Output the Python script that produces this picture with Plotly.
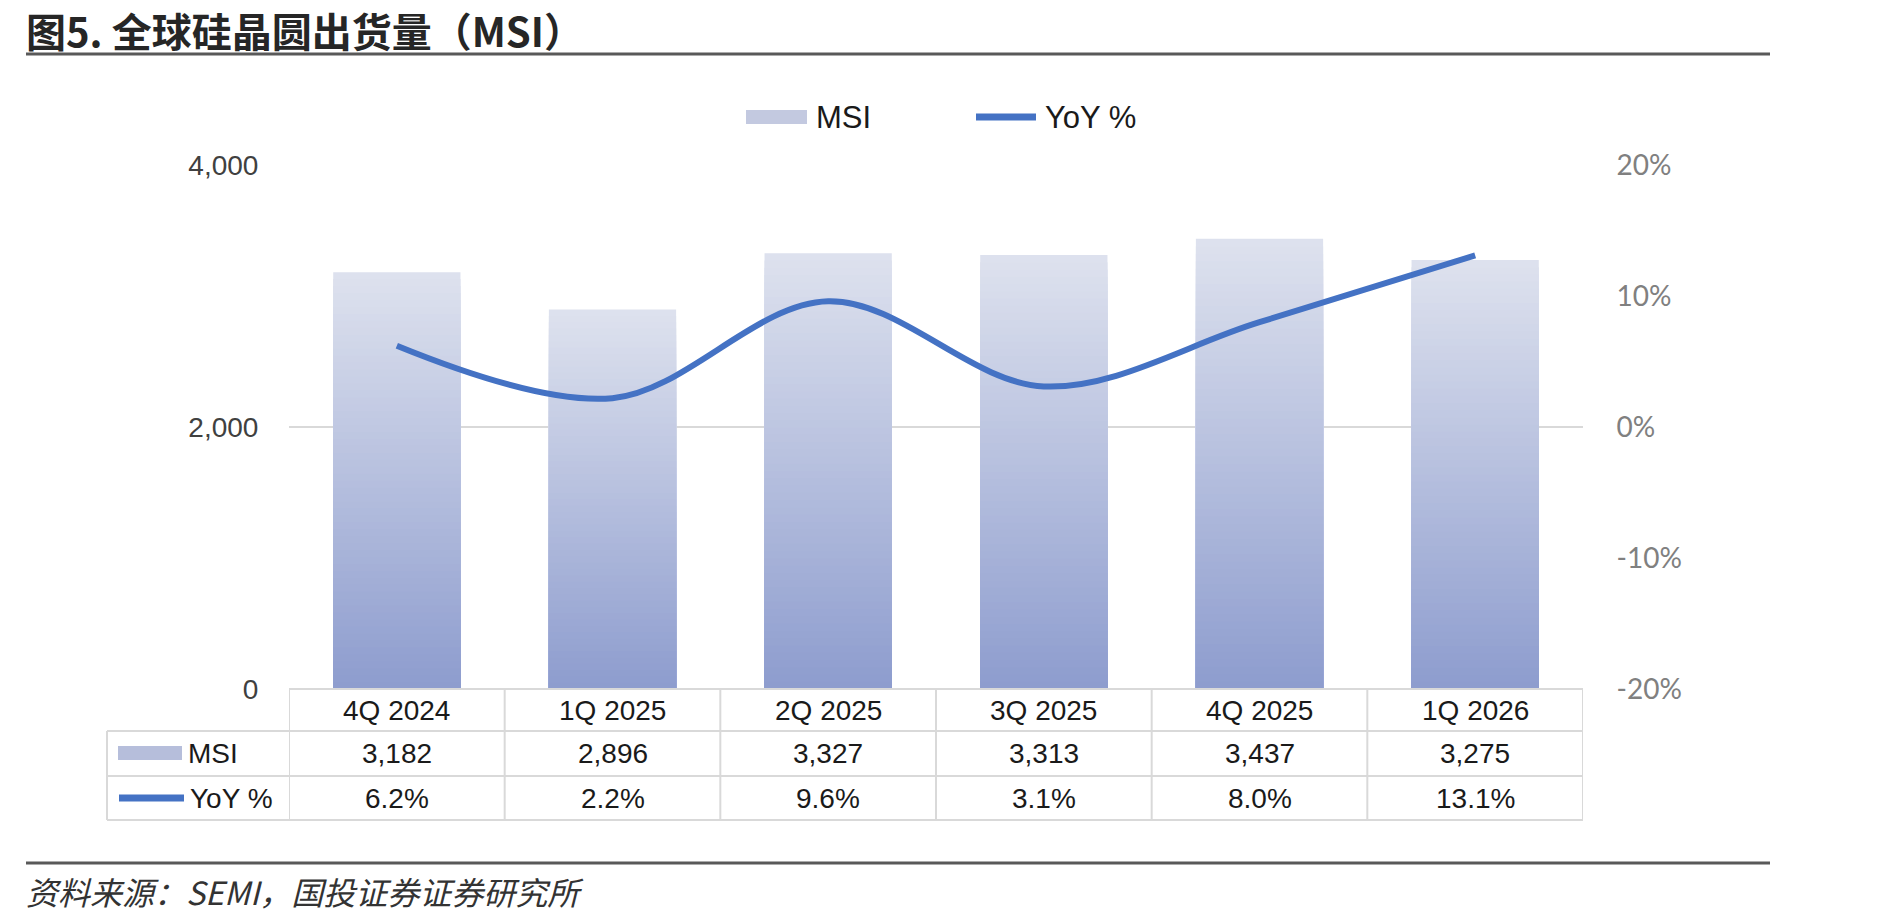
import plotly.graph_objects as go

categories = ["4Q 2024", "1Q 2025", "2Q 2025", "3Q 2025", "4Q 2025", "1Q 2026"]
msi = [3182, 2896, 3327, 3313, 3437, 3275]
yoy = [0.062, 0.022, 0.096, 0.031, 0.080, 0.131]
left_ticks = [0, 2000, 4000]
right_ticks = [-0.2, -0.1, 0.0, 0.1, 0.2]

W, H = 1888, 919
L, R, T, B = 289, 1583, 165, 689
PW, PH = R - L, B - T


def px(x):
    return (x - L) / PW


def py(y):
    return (B - y) / PH


TOP_C = (222, 226, 238)
BOT_C = (141, 156, 206)
N = 60

fig = go.Figure()

# gradient bars: overlapping slices of each bar, light at top, dark at bottom
for k in range(N):
    frac = (N - k - 0.5) / N
    c = tuple(round(BOT_C[i] + (TOP_C[i] - BOT_C[i]) * frac) for i in range(3))
    fig.add_trace(go.Bar(
        x=categories,
        y=[v * (N - k) / N for v in msi],
        name="MSI",
        marker=dict(color="rgb(%d,%d,%d)" % c, line=dict(width=0)),
        showlegend=False,
        hoverinfo="skip" if k else None,
        yaxis="y",
    ))

fig.add_trace(go.Scatter(
    x=categories, y=yoy, name="YoY %", mode="lines",
    line=dict(color="#4472C4", width=6, shape="spline", smoothing=1.0),
    yaxis="y2", showlegend=False,
))

FONT = "Liberation Sans, Arial, sans-serif"
GRID = "#d9d9d9"

fig.update_layout(
    width=W, height=H,
    margin=dict(l=L, r=W - R, t=T, b=H - B, pad=0),
    paper_bgcolor="white", plot_bgcolor="white",
    barmode="overlay", bargap=0.41,
    showlegend=False,
    font=dict(family=FONT, size=28, color="#1a1a1a"),
    xaxis=dict(
        type="category", range=[-0.5, 5.5],
        showgrid=False, zeroline=False, showline=False,
        ticks="", showticklabels=False,
    ),
    yaxis=dict(
        range=[0, 4000], tickvals=left_ticks, tickformat=",",
        showgrid=True, gridcolor=GRID, gridwidth=2,
        zeroline=False, showline=False,
        ticks="outside", ticklen=24, tickcolor="rgba(0,0,0,0)",
        tickfont=dict(family=FONT, size=28, color="#404040"),
    ),
    yaxis2=dict(
        overlaying="y", side="right",
        range=[-0.2, 0.2], tickvals=right_ticks,
        ticktext=[f"{v * 100:.0f}%" for v in right_ticks],
        showgrid=False, zeroline=False, showline=False,
        ticks="outside", ticklen=27, tickcolor="rgba(0,0,0,0)",
        tickfont=dict(family="Lato, sans-serif", size=28, color="#808080"),
    ),
)

shapes = []
anns = []

# title
anns.append(dict(xref="paper", yref="paper", x=px(24), y=py(30),
                 text="<b>图5. 全球硅晶圆出货量（MSI）</b>",
                 showarrow=False, xanchor="left", yanchor="middle",
                 font=dict(family="Noto Sans CJK SC", size=40, color="#262626")))

# title and footer rules
shapes.append(dict(type="line", xref="paper", yref="paper", x0=px(26), x1=px(1770),
                   y0=py(54), y1=py(54), line=dict(color="#595959", width=3)))
shapes.append(dict(type="line", xref="paper", yref="paper", x0=px(26), x1=px(1770),
                   y0=py(863), y1=py(863), line=dict(color="#595959", width=3)))

# legend (top)
shapes.append(dict(type="rect", xref="paper", yref="paper", x0=px(746), x1=px(807),
                   y0=py(124), y1=py(110), line=dict(width=0), fillcolor="#c3c9e0"))
anns.append(dict(xref="paper", yref="paper", x=px(814), y=py(117), text="MSI",
                 showarrow=False, xanchor="left", yanchor="middle",
                 font=dict(family=FONT, size=31, color="#1a1a1a")))
shapes.append(dict(type="line", xref="paper", yref="paper", x0=px(976), x1=px(1036),
                   y0=py(117), y1=py(117), line=dict(color="#4472C4", width=7)))
anns.append(dict(xref="paper", yref="paper", x=px(1043), y=py(117), text="YoY %",
                 showarrow=False, xanchor="left", yanchor="middle",
                 font=dict(family=FONT, size=31, color="#1a1a1a")))

# data table grid
row_lines = [731, 776, 820]
shapes.append(dict(type="line", xref="x", yref="paper", x0=-0.5, x1=5.5,
                   y0=0, y1=0, line=dict(color=GRID, width=2)))
for yl in row_lines:
    shapes.append(dict(type="line", xref="paper", yref="paper", x0=px(107), x1=1,
                       y0=py(yl), y1=py(yl), line=dict(color=GRID, width=2)))
shapes.append(dict(type="line", xref="paper", yref="paper", x0=px(107), x1=px(107),
                   y0=py(731), y1=py(820), line=dict(color=GRID, width=2)))
for k in range(len(categories) + 1):
    shapes.append(dict(type="line", xref="x", yref="paper", x0=k - 0.5, x1=k - 0.5,
                       y0=0, y1=py(820), line=dict(color=GRID, width=2)))

# row headers
shapes.append(dict(type="rect", xref="paper", yref="paper", x0=px(118), x1=px(182),
                   y0=py(760), y1=py(746), line=dict(width=0), fillcolor="#b6bedb"))
anns.append(dict(xref="paper", yref="paper", x=px(186), y=py(753), text="MSI",
                 showarrow=False, xanchor="left", yanchor="middle",
                 font=dict(family=FONT, size=28, color="#1a1a1a")))
shapes.append(dict(type="line", xref="paper", yref="paper", x0=px(119), x1=px(184),
                   y0=py(798), y1=py(798), line=dict(color="#4472C4", width=7)))
anns.append(dict(xref="paper", yref="paper", x=px(188), y=py(798), text="YoY %",
                 showarrow=False, xanchor="left", yanchor="middle",
                 font=dict(family=FONT, size=28, color="#1a1a1a")))

for c, v, g in zip(categories, msi, yoy):
    anns.append(dict(xref="x", yref="paper", x=c, y=py(710), text=c,
                     showarrow=False, xanchor="center", yanchor="middle",
                     font=dict(family=FONT, size=28, color="#1a1a1a")))
    anns.append(dict(xref="x", yref="paper", x=c, y=py(753), text=f"{v:,}",
                     showarrow=False, xanchor="center", yanchor="middle",
                     font=dict(family=FONT, size=28, color="#1a1a1a")))
    anns.append(dict(xref="x", yref="paper", x=c, y=py(798), text=f"{g * 100:.1f}%",
                     showarrow=False, xanchor="center", yanchor="middle",
                     font=dict(family=FONT, size=28, color="#1a1a1a")))

# footer
anns.append(dict(xref="paper", yref="paper", x=px(24), y=py(891),
                 text="<i>资料来源：SEMI，国投证券证券研究所</i>",
                 showarrow=False, xanchor="left", yanchor="middle",
                 font=dict(family="Noto Sans CJK SC", size=32, color="#333333")))

fig.update_layout(shapes=shapes, annotations=anns)
fig.write_html("out.html")
